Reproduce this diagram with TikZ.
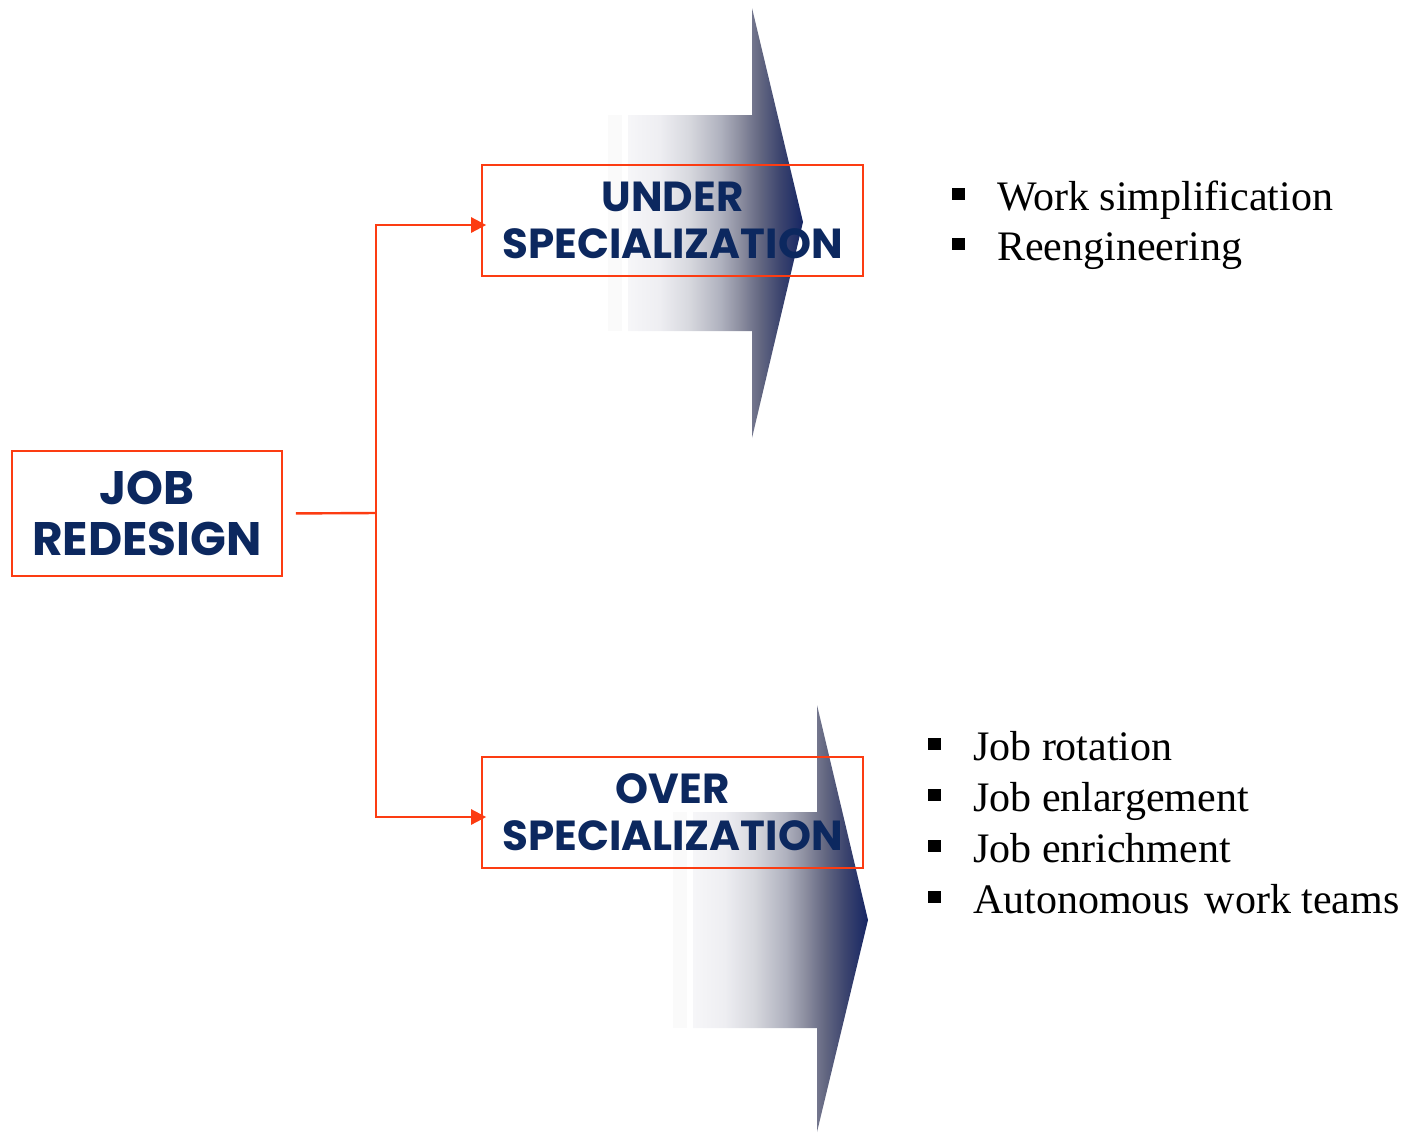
\documentclass[tikz,border=0pt]{standalone}
\usepackage{fontspec}
\setmainfont{Liberation Serif}
\newfontfamily\boxfont{Poppins}
\usetikzlibrary{arrows.meta,calc}
\definecolor{redline}{RGB}{252,60,18}
\definecolor{navytext}{RGB}{12,40,95}
\pgfdeclarehorizontalshading{arrowshade}{100bp}{
  rgb(0bp)=(0.965,0.965,0.973);
  rgb(25bp)=(0.965,0.965,0.973);
  rgb(34bp)=(0.933,0.933,0.949);
  rgb(42.5bp)=(0.843,0.847,0.871);
  rgb(51.5bp)=(0.686,0.694,0.745);
  rgb(57bp)=(0.549,0.557,0.627);
  rgb(62.5bp)=(0.392,0.408,0.510);
  rgb(68.5bp)=(0.235,0.267,0.431);
  rgb(75bp)=(0.086,0.149,0.392);
  rgb(100bp)=(0.086,0.149,0.392)}
\tikzset{
  boxnode/.style={draw=redline, line width=1.6pt, inner sep=0pt, align=center,
    text=navytext, font=\boxfont\bfseries},
  conn/.style={draw=redline, line width=2.4pt},
  tipconn/.style={conn, -{Triangle[length=15pt,width=15pt]}, shorten >=-5pt},
  item/.style={anchor=base west, inner sep=0pt, font=\fontsize{42}{50}\selectfont},
  bigarrow/.style={shading=arrowshade},
  faint/.style={fill=black!2, draw=none}
}
\newcommand{\sqbullet}{\makebox[45pt][l]{\rule[10pt]{12.5pt}{12.5pt}}}
\begin{document}
\begin{tikzpicture}[x=1pt,y=-1pt]
\useasboundingbox (0,0) rectangle (1402,1133);
% upper big arrow
\fill[faint] (608,115) rectangle (622,331);
\shade[bigarrow] (628,115) -- (752,115) -- (752,8) -- (803,222) -- (752,438) -- (752,331) -- (628,331) -- cycle;
% lower big arrow
\fill[faint] (673,812) rectangle (687,1028);
\shade[bigarrow] (693,812) -- (817,812) -- (817,705) -- (868,920) -- (817,1132) -- (817,1028) -- (693,1028) -- cycle;
% boxes
\node[boxnode, minimum width=270pt, minimum height=125pt, font=\boxfont\bfseries\fontsize{47}{51}\selectfont] (job) at (147,513.5) {JOB\\REDESIGN};
\node[boxnode, minimum width=381pt, minimum height=111pt, font=\boxfont\bfseries\fontsize{42}{47}\selectfont] (under) at (672.5,220.5) {UNDER\\SPECIALIZATION};
\node[boxnode, minimum width=381pt, minimum height=111pt, font=\boxfont\bfseries\fontsize{42}{47}\selectfont] (over) at (672.5,812.5) {OVER\\SPECIALIZATION};
% connectors
\coordinate (junction) at (376,513);
\draw[conn, shorten <=13pt] (job.east) -- (junction);
\draw[tipconn] (junction) |- ($(under.west)+(0,4.5)$);
\draw[tipconn] (junction) |- ($(over.west)+(0,4.5)$);
% lists
\node[item] (u1) at (952,210) {\sqbullet Work simplification};
\node[item] (u2) at (952,260) {\sqbullet Reengineering};
\node[item] (o1) at (928,760) {\sqbullet Job rotation};
\node[item] (o2) at (928,811) {\sqbullet Job enlargement};
\node[item] (o3) at (928,862) {\sqbullet Job enrichment};
\node[item] (o4) at (928,913) {\sqbullet Autonomous\hspace{4pt} work teams};
\end{tikzpicture}
\end{document}
